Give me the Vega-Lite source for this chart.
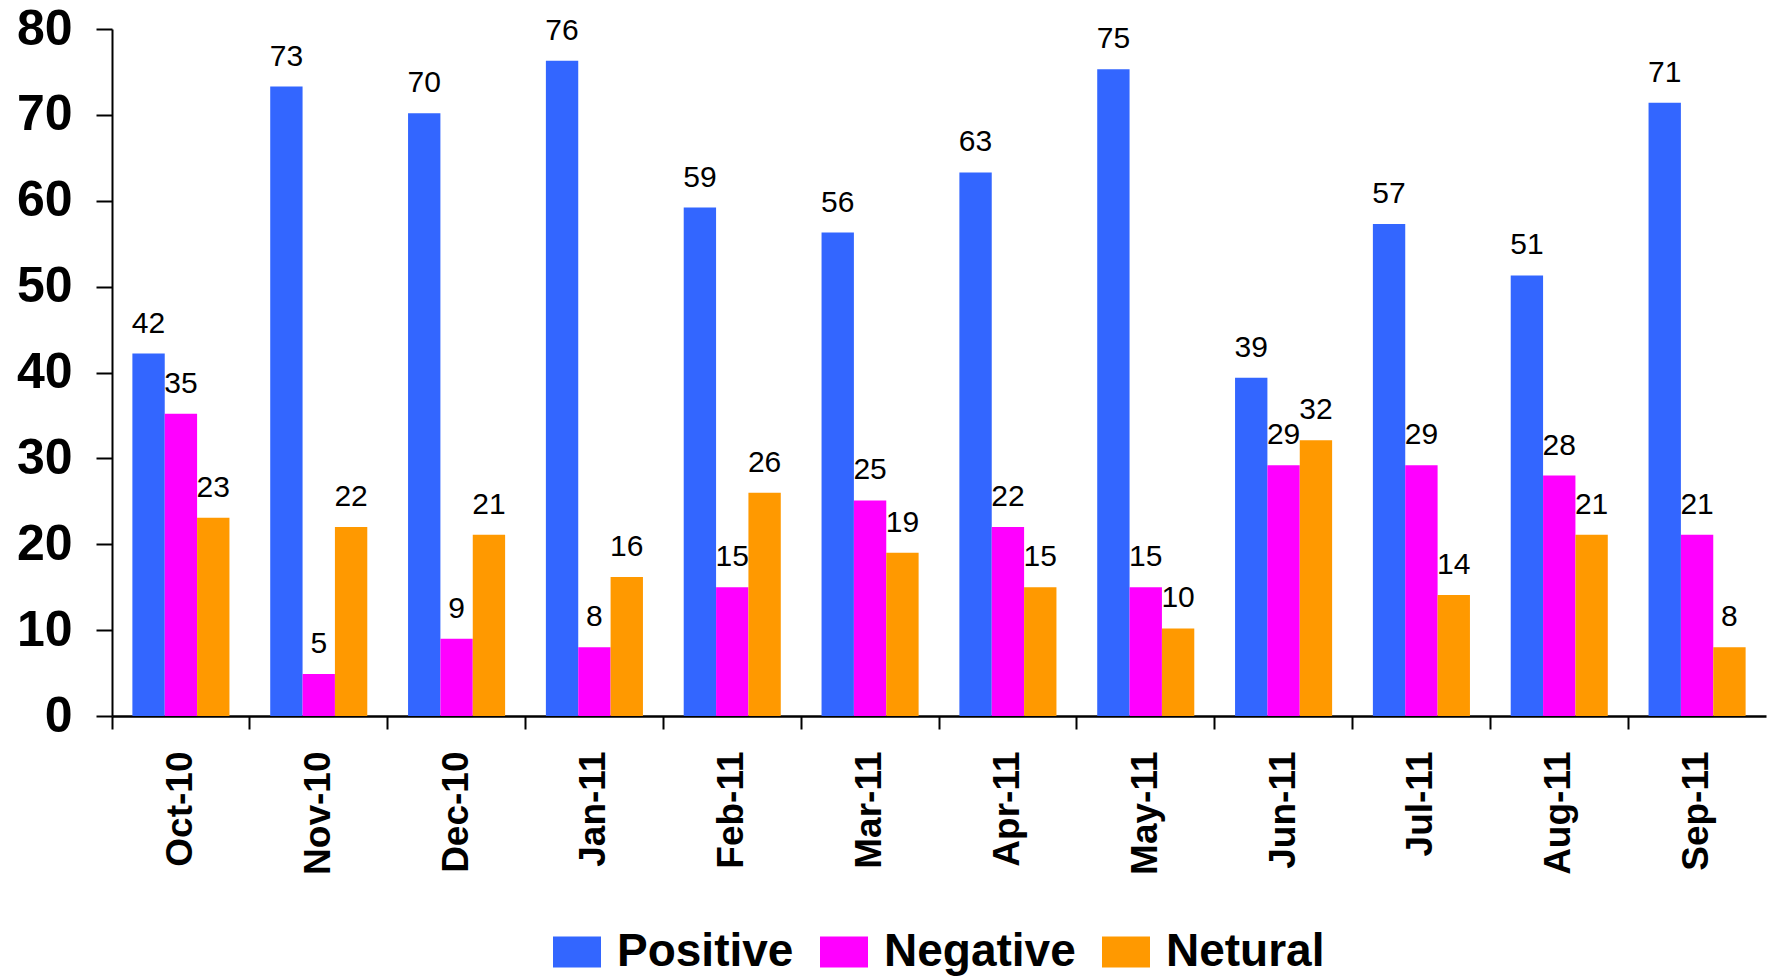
{
  "$schema": "https://vega.github.io/schema/vega-lite/v6.json",
  "autosize": "none",
  "width": 1654,
  "height": 687,
  "padding": {"left": 112, "top": 29, "right": 8, "bottom": 261},
  "background": "white",
  "config": {"view": {"stroke": null}, "font": "Liberation Sans"},
  "data": {"values": [
    {"month": "Oct-10", "sentiment": "Positive", "value": 42.2},
    {"month": "Oct-10", "sentiment": "Negative", "value": 35.2},
    {"month": "Oct-10", "sentiment": "Netural", "value": 23.1},
    {"month": "Nov-10", "sentiment": "Positive", "value": 73.3},
    {"month": "Nov-10", "sentiment": "Negative", "value": 4.9},
    {"month": "Nov-10", "sentiment": "Netural", "value": 22.0},
    {"month": "Dec-10", "sentiment": "Positive", "value": 70.2},
    {"month": "Dec-10", "sentiment": "Negative", "value": 9.0},
    {"month": "Dec-10", "sentiment": "Netural", "value": 21.1},
    {"month": "Jan-11", "sentiment": "Positive", "value": 76.3},
    {"month": "Jan-11", "sentiment": "Negative", "value": 8.0},
    {"month": "Jan-11", "sentiment": "Netural", "value": 16.2},
    {"month": "Feb-11", "sentiment": "Positive", "value": 59.2},
    {"month": "Feb-11", "sentiment": "Negative", "value": 15.0},
    {"month": "Feb-11", "sentiment": "Netural", "value": 26.0},
    {"month": "Mar-11", "sentiment": "Positive", "value": 56.3},
    {"month": "Mar-11", "sentiment": "Negative", "value": 25.1},
    {"month": "Mar-11", "sentiment": "Netural", "value": 19.0},
    {"month": "Apr-11", "sentiment": "Positive", "value": 63.3},
    {"month": "Apr-11", "sentiment": "Negative", "value": 22.0},
    {"month": "Apr-11", "sentiment": "Netural", "value": 15.0},
    {"month": "May-11", "sentiment": "Positive", "value": 75.3},
    {"month": "May-11", "sentiment": "Negative", "value": 15.0},
    {"month": "May-11", "sentiment": "Netural", "value": 10.2},
    {"month": "Jun-11", "sentiment": "Positive", "value": 39.4},
    {"month": "Jun-11", "sentiment": "Negative", "value": 29.2},
    {"month": "Jun-11", "sentiment": "Netural", "value": 32.1},
    {"month": "Jul-11", "sentiment": "Positive", "value": 57.3},
    {"month": "Jul-11", "sentiment": "Negative", "value": 29.2},
    {"month": "Jul-11", "sentiment": "Netural", "value": 14.1},
    {"month": "Aug-11", "sentiment": "Positive", "value": 51.3},
    {"month": "Aug-11", "sentiment": "Negative", "value": 28.0},
    {"month": "Aug-11", "sentiment": "Netural", "value": 21.1},
    {"month": "Sep-11", "sentiment": "Positive", "value": 71.4},
    {"month": "Sep-11", "sentiment": "Negative", "value": 21.1},
    {"month": "Sep-11", "sentiment": "Netural", "value": 8.0}
  ]},
  "encoding": {
    "x": {
      "field": "month", "type": "nominal", "sort": null,
      "scale": {"paddingInner": 0, "paddingOuter": 0},
      "axis": {
        "title": null, "bandPosition": 0, "labelAngle": -90,
        "labelFont": "Liberation Sans", "labelFontWeight": "bold", "labelFontSize": 37,
        "labelColor": "black", "labelPadding": 22,
        "tickSize": 13, "tickWidth": 2, "tickColor": "black",
        "domainColor": "black", "domainWidth": 2.5
      }
    },
    "xOffset": {
      "field": "sentiment", "type": "nominal",
      "sort": ["Positive", "Negative", "Netural"],
      "scale": {"paddingInner": 0, "paddingOuter": 0.63}
    },
    "y": {
      "field": "value", "type": "quantitative",
      "scale": {"domain": [0, 80], "nice": false},
      "axis": {
        "title": null, "values": [0, 10, 20, 30, 40, 50, 60, 70, 80], "grid": false,
        "labelFont": "Liberation Sans", "labelFontWeight": "bold", "labelFontSize": 50,
        "labelColor": "black", "labelPadding": 24,
        "tickSize": 16, "tickWidth": 2, "tickColor": "black",
        "domainColor": "black", "domainWidth": 2
      }
    }
  },
  "layer": [
    {
      "mark": {"type": "bar"},
      "encoding": {
        "color": {
          "field": "sentiment", "type": "nominal",
          "sort": ["Positive", "Negative", "Netural"],
          "scale": {"domain": ["Positive", "Negative", "Netural"], "range": ["#3366FF", "#FF00FF", "#FF9900"]},
          "legend": {
            "title": null, "orient": "none", "direction": "horizontal",
            "legendX": 441, "legendY": 899,
            "symbolType": "M-1,-0.646L1,-0.646L1,0.646L-1,0.646Z",
            "symbolSize": 2304, "symbolStrokeWidth": 0, "symbolOpacity": 1,
            "labelFont": "Liberation Sans", "labelFontWeight": "bold", "labelFontSize": 46,
            "labelColor": "black", "labelOffset": 16, "columnPadding": 26,
            "labelLimit": 400
          }
        }
      }
    },
    {
      "mark": {"type": "text", "baseline": "alphabetic", "align": "center", "dy": -21,
               "font": "Liberation Sans", "fontSize": 30, "color": "black"},
      "encoding": {"text": {"field": "value", "type": "quantitative", "format": ".0f"}}
    }
  ]
}
